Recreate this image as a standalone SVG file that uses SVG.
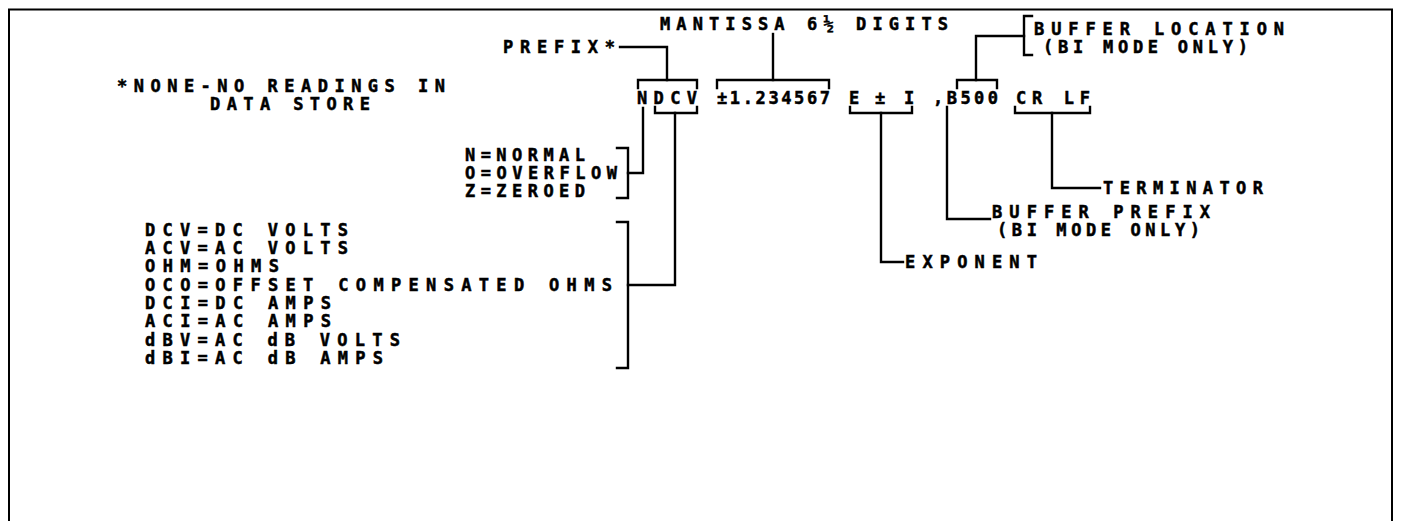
<svg xmlns="http://www.w3.org/2000/svg" width="1403" height="521" viewBox="0 0 1403 521">
<style>
text{font-family:"DejaVu Sans Mono","Liberation Mono",monospace;font-weight:bold;font-size:17px;fill:#000;stroke:#000;stroke-width:0.5}
.c{fill:none;stroke:#000;stroke-width:2.4;stroke-linecap:square}
.b{fill:none;stroke:#000;stroke-width:2}
</style>
<rect width="1403" height="521" fill="#fff"/>
<path class="b" d="M9,530 V9.5 H1392 V530"/>
<g id="connectors">
<path class="c" d="M620,47 H667 V80"/>
<path class="c" d="M638,88 V80 H697 V88"/>
<path class="c" d="M773,34 V80"/>
<path class="c" d="M717,88 V80 H829 V88"/>
<path class="c" d="M1032,16 H1024 V55 H1032"/>
<path class="c" d="M1024,36 H976 V80"/>
<path class="c" d="M957,88 V80 H997 V88"/>
<path class="c" d="M643,108 V173 H628"/>
<path class="c" d="M617,148 H628 V198 H617"/>
<path class="c" d="M655,107 V113 H697 V107"/>
<path class="c" d="M675,113 V285 H628"/>
<path class="c" d="M617,222 H628 V368 H617"/>
<path class="c" d="M850,107 V113 H912 V107"/>
<path class="c" d="M881,113 V262 H903"/>
<path class="c" d="M947,107 V219 H990"/>
<path class="c" d="M1015,107 V113 H1090 V107"/>
<path class="c" d="M1052,113 V188 H1100"/>
</g>
<g id="mantissa"><text x="660" y="30" textLength="288" lengthAdjust="spacing">MANTISSA 6½ DIGITS</text></g>
<g id="prefix"><text x="503" y="53" textLength="112" lengthAdjust="spacing">PREFIX*</text></g>
<g id="buffer-location"><text x="1034" y="35" textLength="250" lengthAdjust="spacing">BUFFER LOCATION</text><text x="1043" y="53" textLength="205" lengthAdjust="spacing">(BI MODE ONLY)</text></g>
<g id="none-note"><text x="117" y="92" textLength="328" lengthAdjust="spacing">*NONE-NO READINGS IN</text><text x="210" y="110" textLength="160" lengthAdjust="spacing">DATA STORE</text></g>
<g id="format">
<text x="637" y="104" textLength="60" lengthAdjust="spacing">NDCV</text>
<text x="717" y="104" textLength="113" lengthAdjust="spacing">±1.234567</text>
<text x="849" y="104">E</text>
<text x="875" y="104">±</text>
<text x="904" y="104">I</text>
<text x="933" y="104" textLength="65" lengthAdjust="spacing">,B500</text>
<text x="1016" y="104" textLength="74" lengthAdjust="spacing">CR LF</text>
</g>
<g id="status"><text x="465" y="161" textLength="120" lengthAdjust="spacing">N=NORMAL</text><text x="465" y="179" textLength="152" lengthAdjust="spacing">O=OVERFLOW</text><text x="465" y="197" textLength="120" lengthAdjust="spacing">Z=ZEROED</text></g>
<g id="terminator"><text x="1103" y="194" textLength="160" lengthAdjust="spacing">TERMINATOR</text></g>
<g id="buffer-prefix"><text x="992" y="218" textLength="218" lengthAdjust="spacing">BUFFER PREFIX</text><text x="997" y="236" textLength="203" lengthAdjust="spacing">(BI MODE ONLY)</text></g>
<g id="exponent"><text x="905" y="268" textLength="132" lengthAdjust="spacing">EXPONENT</text></g>
<g id="functions">
<text x="145" y="236" textLength="203" lengthAdjust="spacing">DCV=DC VOLTS</text>
<text x="145" y="254" textLength="203" lengthAdjust="spacing">ACV=AC VOLTS</text>
<text x="145" y="272" textLength="134" lengthAdjust="spacing">OHM=OHMS</text>
<text x="145" y="291" textLength="467" lengthAdjust="spacing">OCO=OFFSET COMPENSATED OHMS</text>
<text x="145" y="309" textLength="186" lengthAdjust="spacing">DCI=DC AMPS</text>
<text x="145" y="327" textLength="186" lengthAdjust="spacing">ACI=AC AMPS</text>
<text x="145" y="346" textLength="255" lengthAdjust="spacing">dBV=AC dB VOLTS</text>
<text x="145" y="364" textLength="238" lengthAdjust="spacing">dBI=AC dB AMPS</text>
</g>
</svg>
